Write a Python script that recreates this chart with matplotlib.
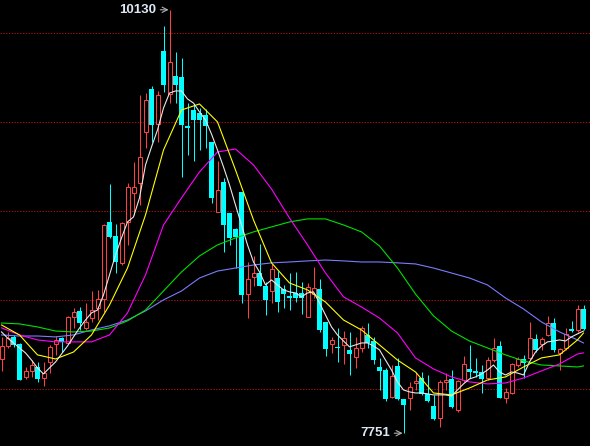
import matplotlib
matplotlib.use("Agg")
import matplotlib.pyplot as plt
from matplotlib.patches import Rectangle

# daily K-line values
opens = [8168, 8241, 8292, 8252, 8067, 8101, 8123, 8061, 8151, 8252,
         8286, 8258, 8404, 8438, 8342, 8398, 8455, 8505, 8938, 8859,
         8708, 8938, 9101, 9157, 9443, 9685, 9488, 9898, 9657, 9758,
         9752, 9477, 9567, 9550, 9539, 9387, 8994, 9163, 8988, 8899,
         9106, 8533, 8629, 8651, 8578, 8550, 8623, 8561, 8522, 8539,
         8539, 8404, 8533, 8561, 8376, 8252, 8236, 8247, 8219, 8179,
         8230, 8303, 8269, 8123, 8106, 7955, 8129, 7943, 7949, 8033,
         8061, 7972, 7904, 7837, 8039, 8056, 7882, 8050, 8112, 8101,
         8095, 8061, 8162, 8241, 7949, 7977, 8134, 8168, 8174, 8280,
         8252, 8303, 8370, 8202, 8230, 8337, 8331, 8449]
highs = [8292, 8320, 8303, 8258, 8123, 8162, 8151, 8151, 8247, 8297,
         8292, 8410, 8455, 8460, 8483, 8550, 8556, 8927, 9151, 8927,
         8938, 9157, 9275, 9651, 9662, 9702, 9674, 10039, 10130, 9893,
         9859, 9606, 9601, 9578, 9573, 9387, 9280, 9185, 8988, 8904,
         9106, 8713, 8747, 8814, 8601, 8702, 8662, 8584, 8651, 8657,
         8601, 8595, 8685, 8618, 8376, 8292, 8342, 8325, 8320, 8292,
         8354, 8370, 8292, 8174, 8118, 8134, 8174, 7943, 8039, 8095,
         8095, 8078, 7966, 8050, 8089, 8106, 8050, 8185, 8247, 8174,
         8134, 8179, 8286, 8269, 8005, 8146, 8179, 8191, 8376, 8309,
         8292, 8410, 8398, 8230, 8342, 8382, 8471, 8471]
lows = [8101, 8230, 8236, 8050, 8056, 8067, 8039, 8016, 8089, 8191,
        8207, 8258, 8342, 8331, 8331, 8376, 8387, 8432, 8848, 8651,
        8696, 8809, 8977, 9033, 9353, 9387, 9387, 9668, 9606, 9606,
        9191, 9314, 9280, 9342, 9353, 9045, 8994, 8769, 8809, 8679,
        8483, 8398, 8578, 8578, 8415, 8483, 8432, 8455, 8443, 8488,
        8421, 8404, 8511, 8320, 8185, 8202, 8151, 8140, 8078, 8118,
        8207, 8230, 8140, 7994, 7932, 7949, 7938, 7751, 7882, 7994,
        7966, 7927, 7825, 7786, 7994, 7893, 7870, 8039, 8061, 8067,
        7977, 8050, 8151, 7949, 7921, 7972, 8123, 8061, 8162, 8207,
        8219, 8297, 8207, 8106, 8219, 8320, 8320, 8331]
closes = [8241, 8286, 8247, 8050, 8101, 8134, 8056, 8089, 8236, 8275,
          8264, 8404, 8432, 8370, 8376, 8443, 8505, 8921, 8854, 8713,
          8932, 9134, 9134, 9303, 9623, 9483, 9651, 9707, 9837, 9707,
          9483, 9466, 9511, 9511, 9477, 9073, 9118, 8921, 8848, 8854,
          8528, 8618, 8651, 8578, 8500, 8674, 8488, 8533, 8511, 8511,
          8511, 8573, 8567, 8331, 8224, 8275, 8230, 8286, 8196, 8230,
          8342, 8258, 8162, 8101, 7943, 8073, 7943, 7910, 8011, 8045,
          7972, 7932, 7831, 8039, 8050, 7898, 8045, 8140, 8095, 8089,
          8056, 8162, 8230, 7949, 7983, 8140, 8168, 8146, 8286, 8219,
          8280, 8370, 8219, 8224, 8309, 8325, 8449, 8337]

# moving averages, MA5 read at every bar, the others every third bar
ma5 = [8320, 8286, 8258, 8230, 8202, 8162, 8118, 8084, 8118, 8151,
       8196, 8241, 8292, 8342, 8387, 8427, 8443, 8528, 8640, 8752,
       8848, 8938, 8966, 9073, 9258, 9359, 9455, 9578, 9662, 9674,
       9674, 9629, 9606, 9556, 9511, 9432, 9342, 9247, 9146, 9033,
       8921, 8809, 8713, 8657, 8584, 8612, 8584, 8556, 8545, 8539,
       8517, 8539, 8545, 8483, 8415, 8348, 8303, 8269, 8236, 8247,
       8258, 8258, 8241, 8219, 8162, 8106, 8039, 7994, 7983, 7977,
       7977, 7972, 7966, 7966, 7966, 7960, 7994, 8028, 8056, 8067,
       8084, 8106, 8134, 8095, 8078, 8095, 8089, 8078, 8151, 8207,
       8241, 8264, 8269, 8275, 8269, 8292, 8309, 8325]
ma_idx = list(range(0, 97, 3)) + [97]
ma10 = [8359, 8303, 8191, 8168, 8207, 8303, 8471, 8679, 8977, 9342,
        9567, 9601, 9500, 9230, 8949, 8708, 8595, 8556, 8488, 8387,
        8331, 8247, 8162, 8095, 7977, 7966, 8005, 8050, 8067, 8123,
        8174, 8191, 8275, 8314]
ma20 = [8343, 8303, 8275, 8264, 8264, 8264, 8303, 8427, 8640, 8921,
        9073, 9219, 9331, 9348, 9258, 9123, 8960, 8809, 8651, 8517,
        8460, 8398, 8314, 8174, 8112, 8067, 8039, 8028, 8033, 8061,
        8101, 8140, 8196, 8202]
ma40 = [8370, 8365, 8348, 8325, 8320, 8325, 8342, 8382, 8443, 8550,
        8657, 8747, 8809, 8848, 8882, 8910, 8938, 8955, 8955, 8921,
        8882, 8803, 8679, 8533, 8410, 8325, 8269, 8230, 8191, 8157,
        8134, 8129, 8123, 8129]
ma60 = [8303, 8297, 8297, 8292, 8303, 8331, 8354, 8387, 8438, 8500,
        8550, 8623, 8662, 8679, 8696, 8708, 8713, 8719, 8724, 8719,
        8713, 8713, 8708, 8702, 8679, 8651, 8623, 8584, 8511, 8449,
        8376, 8320, 8275, 8258]

up_color = '#ff4040'
down_color = '#00ffff'

fig = plt.figure(figsize=(5.9, 4.46), dpi=100, facecolor='black')
ax = fig.add_axes([0, 0, 1, 1])
ax.set_facecolor('black')
# one bar every 6 px, bar centres on pixel centres
ax.set_xlim(-1.5 / 6, 588.5 / 6)
ax.set_ylim(7679, 10185)
for s in ax.spines.values():
    s.set_visible(False)
ax.set_xticks([])
ax.set_yticks([])

for lvl in [8000, 8500, 9000, 9500, 10000]:
    ax.axhline(lvl, color='#a01010', lw=0.72, ls=(0, (1.4, 1.4)), zorder=1)

px = 1 / 6
for i in range(len(opens)):
    o, h, l, c = opens[i], highs[i], lows[i], closes[i]
    if c >= o:
        ax.vlines(i, l, o, color=up_color, lw=0.72, zorder=2)
        ax.vlines(i, c, h, color=up_color, lw=0.72, zorder=2)
        if c - o < 8:
            ax.hlines((o + c) / 2, i - 2.5 * px, i + 2.5 * px, color=up_color,
                      lw=1.2, zorder=3)
        else:
            ax.add_patch(Rectangle((i - 2 * px, o), 4 * px, c - o, facecolor='black',
                                   edgecolor=up_color, lw=0.72, zorder=3))
    else:
        ax.vlines(i, l, h, color=down_color, lw=0.72, zorder=2)
        ax.add_patch(Rectangle((i - 2.5 * px, c), 5 * px, max(o - c, 7),
                               facecolor=down_color, edgecolor='none', zorder=3))

ax.plot(ma_idx, ma60, color='#7b7bff', lw=0.8, zorder=4)
ax.plot(ma_idx, ma40, color='#00e000', lw=0.8, zorder=4)
ax.plot(ma_idx, ma20, color='#ff00ff', lw=0.8, zorder=4)
ax.plot(ma_idx, ma10, color='#ffff00', lw=0.8, zorder=4)
ax.plot(range(len(ma5)), ma5, color='#e8e8e8', lw=0.8, zorder=5)

hi = highs.index(max(highs))
lo = lows.index(min(lows))
fnt = dict(family=['Liberation Sans Narrow', 'Liberation Sans'], weight='bold', size=9.5)
for idx, val in [(hi, max(highs)), (lo, min(lows))]:
    ax.annotate(str(val), xy=(idx - 0.15, val), xytext=(-9, 0),
                textcoords='offset points', ha='right', va='center', color='#dde8f4',
                arrowprops=dict(arrowstyle='->', color='#b0b0b0', lw=0.8,
                                shrinkA=1, shrinkB=0),
                zorder=6, **fnt)

fig.savefig('out.png', dpi=100, facecolor='black')
